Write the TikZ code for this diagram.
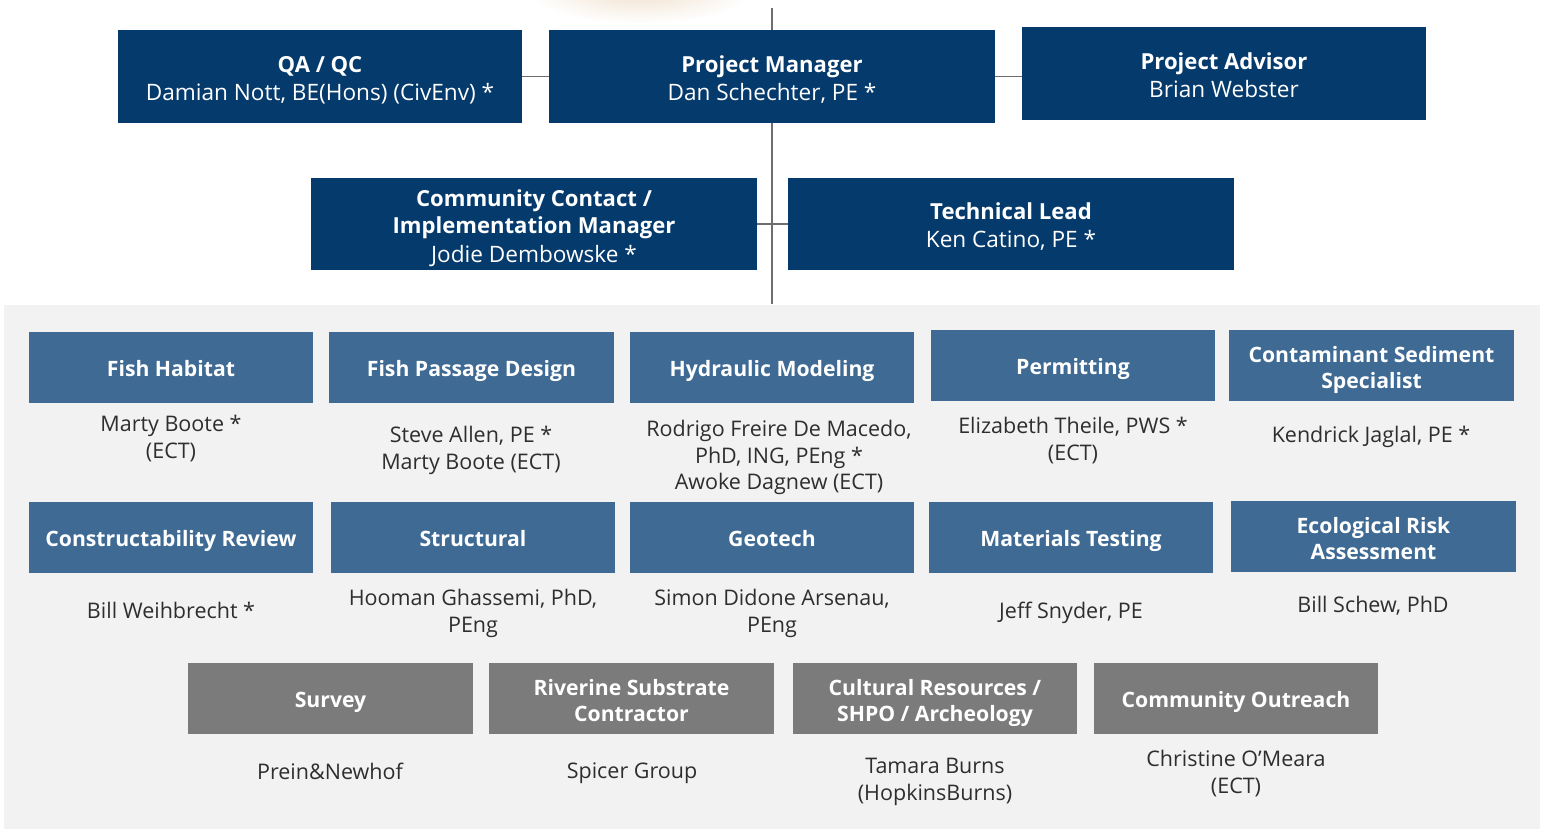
\documentclass[tikz,border=0pt]{standalone}
\usepackage{fontspec}
\setmainfont{Open Sans}
\usetikzlibrary{backgrounds,calc}
\definecolor{navy}{HTML}{053A6C}
\definecolor{midblue}{HTML}{3E6A94}
\definecolor{midgrey}{HTML}{7B7B7B}
\definecolor{panel}{HTML}{F2F2F2}
\definecolor{ink}{HTML}{2E2E2E}
\definecolor{wire}{HTML}{6E6E6E}
\definecolor{blob}{HTML}{EFDFCB}
\newcommand{\topstrut}{\rule{0pt}{11.4pt}}
\newcommand{\botstrut}{\rule[-2.6pt]{0pt}{2.6pt}}
\newcommand{\ptop}{\rule{0pt}{11.6pt}}
\newcommand{\btop}{\rule{0pt}{12.6pt}}
\tikzset{
  struts/.style={execute at begin node=\topstrut,execute at end node=\botstrut},
  box/.style={struts,anchor=center,inner sep=0pt,align=center,text=white},
  lead/.style={box,fill=navy,font=\fontsize{11.3}{14}\selectfont},
  team/.style={box,fill=midblue,font=\fontsize{10.6}{13.1}\selectfont\bfseries},
  sub/.style={box,fill=midgrey,font=\fontsize{10.6}{13.1}\selectfont\bfseries},
  person/.style={struts,anchor=center,inner sep=0pt,align=center,text=ink,font=\fontsize{10.75}{13.3}\selectfont},
  wirel/.style={draw=wire,line width=0.7pt},
}
\newcommand{\hd}[1]{{\fontsize{11.05}{14}\selectfont\bfseries #1}}
% box: style, name, left, top, right, bottom, text
\newcommand{\pbox}[7]{\node[#1,minimum width=#5*0.5pt-#3*0.5pt,minimum height=#6*0.5pt-#4*0.5pt] (#2) at ({(#3+#5)/2},{(#4+#6)/2}) {#7};}
\begin{document}
\begin{tikzpicture}[x=0.5pt,y=-0.5pt]
\useasboundingbox (0,0) rectangle (1543,829);
\fill[white] (0,0) rectangle (1543,829);
\begin{scope}
\clip (0,0) rectangle (1543,829);
\shade[inner color=blob,outer color=white] (640,-12) ellipse [x radius=115,y radius=36];
\end{scope}
\pbox{fill=panel,inner sep=0pt,anchor=center}{panelbg}{4}{305}{1540}{829}{}
\coordinate (topend) at (772,8);
\coordinate (botend) at (772,304);

\pbox{lead}{qa}{118}{30}{522}{123}{\btop\hd{QA / QC}\\Damian Nott, BE(Hons) (CivEnv) *\botstrut}
\pbox{lead}{pm}{549}{30}{995}{123}{\btop\hd{Project Manager}\\Dan Schechter, PE *\botstrut}
\pbox{lead}{adv}{1022}{27}{1426}{120}{\btop\hd{Project Advisor}\\Brian Webster\botstrut}
\pbox{lead}{comm}{311}{178}{757}{270}{\btop\hd{Community Contact /}\\\hd{Implementation Manager}\\Jodie Dembowske *\botstrut}
\pbox{lead}{tech}{788}{178}{1234}{270}{\btop\hd{Technical Lead}\\Ken Catino, PE *\botstrut}

\pbox{team}{t1}{29}{332}{313}{403}{Fish Habitat}
\pbox{team}{t2}{329}{332}{614}{403}{Fish Passage Design}
\pbox{team}{t3}{630}{332}{914}{403}{Hydraulic Modeling}
\pbox{team}{t4}{931}{330}{1215}{401}{Permitting}
\pbox{team}{t5}{1229}{330}{1514}{401}{\btop Contaminant Sediment\\Specialist\botstrut}
\pbox{team}{u1}{29}{502}{313}{573}{Constructability Review}
\pbox{team}{u2}{331}{502}{615}{573}{Structural}
\pbox{team}{u3}{630}{502}{914}{573}{Geotech}
\pbox{team}{u4}{929}{502}{1213}{573}{Materials Testing}
\pbox{team}{u5}{1231}{501}{1516}{572}{\btop Ecological Risk\\Assessment\botstrut}
\pbox{sub}{v1}{188}{663}{473}{734}{Survey}
\pbox{sub}{v2}{489}{663}{774}{734}{\btop Riverine Substrate\\Contractor\botstrut}
\pbox{sub}{v3}{793}{663}{1077}{734}{\btop Cultural Resources /\\SHPO / Archeology\botstrut}
\pbox{sub}{v4}{1094}{663}{1378}{734}{Community Outreach}

\node[person] (p1) at (171,436) {\ptop Marty Boote *\\(ECT)\botstrut};
\node[person] (p2) at (471,447) {\ptop Steve Allen, PE *\\Marty Boote (ECT)\botstrut};
\node[person] (p3) at (779,454) {\ptop Rodrigo Freire De Macedo,\\PhD, ING, PEng *\\Awoke Dagnew (ECT)\botstrut};
\node[person] (p4) at (1073,438) {\ptop Elizabeth Theile, PWS *\\(ECT)\botstrut};
\node[person] (p5) at (1371,434) {Kendrick Jaglal, PE *};
\node[person] (q1) at (171,610) {Bill Weihbrecht *};
\node[person] (q2) at (473,610) {\ptop Hooman Ghassemi, PhD,\\PEng\botstrut};
\node[person] (q3) at (772,610) {\ptop Simon Didone Arsenau,\\PEng\botstrut};
\node[person] (q4) at (1071,610) {Jeff Snyder, PE};
\node[person] (q5) at (1373,604) {Bill Schew, PhD};
\node[person] (r1) at (330,771) {Prein\&Newhof};
\node[person] (r2) at (632,770) {Spicer Group};
\node[person] (r3) at (935,778) {\ptop Tamara Burns\\(HopkinsBurns)\botstrut};
\node[person] (r4) at (1236,771) {\ptop Christine O’Meara\\(ECT)\botstrut};

\draw[wirel] (topend) -- (pm.north);
\draw[wirel] (pm.south) -- (botend);
\draw[wirel] (qa.east |- pm.west) -- (pm.west);
\draw[wirel] (pm.east) -- (adv.west |- pm.east);
\draw[wirel] (comm.east) -- (tech.west);
\end{tikzpicture}
\end{document}
